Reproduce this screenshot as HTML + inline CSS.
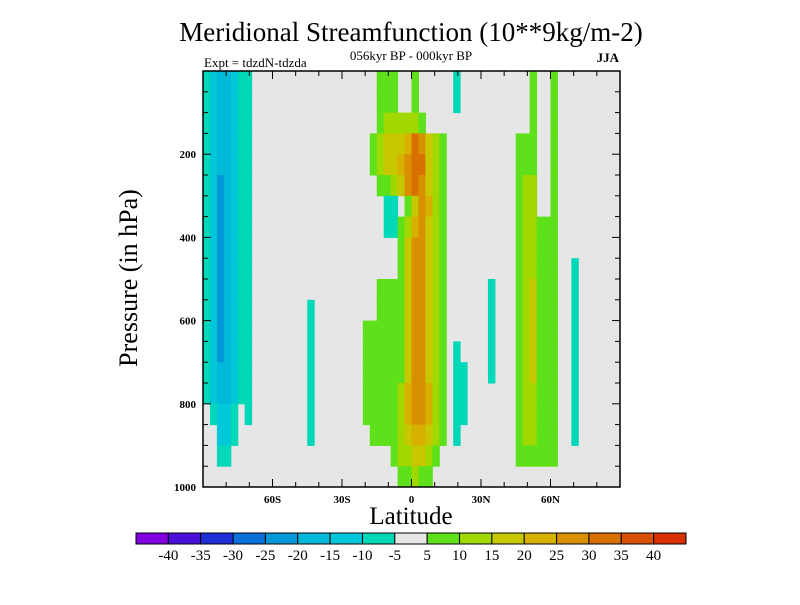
<!DOCTYPE html>
<html><head><meta charset="utf-8"><style>
body{margin:0;background:#fff}
svg text{font-family:"Liberation Serif",serif;fill:#000}
</style></head><body>
<svg id="chart" width="800" height="600" xmlns="http://www.w3.org/2000/svg">
<text x="411" y="41" font-size="27" text-anchor="middle">Meridional Streamfunction (10**9kg/m-2)</text>
<text x="411" y="60" font-size="13" text-anchor="middle">056kyr BP - 000kyr BP</text>
<text x="204" y="67" font-size="13">Expt = tdzdN-tdzda</text>
<text x="619" y="62" font-size="13" text-anchor="end" font-weight="bold">JJA</text>
<text transform="translate(137,278) rotate(-90)" font-size="26" text-anchor="middle">Pressure (in hPa)</text>
<text x="411" y="524" font-size="25" text-anchor="middle">Latitude</text>
<g id="cells"></g>
<g id="axes"></g>
<g id="cbar"></g>
</svg>
<script>
const latStart = -90, latStep = 3;
const presStep = 50;
// field rows (top 0 hPa -> 1000 hPa), 60 latitude columns each
// '.'=0, '1'..'6' positive levels, 'a'..'d' negative levels
const L0="abccbaa...", L5="abdcbaa...";
const values = [
L0+".........."+".....111.."+"1.....a..."+".......1.."+"1.........",
L0+".........."+".....111.."+"1.....a..."+".......1.."+"1.........",
L0+".........."+".....12222"+"21........"+".......1.."+"1.........",
L0+".........."+"....123334"+"65321....."+".....111.."+"1.........",
L0+".........."+"....123345"+"66321....."+".....111.."+"1.........",
L5+".........."+".....11235"+"65321....."+".....122.."+"1.........",
L5+".........."+"......aa.1"+"35421....."+".....122.."+"1.........",
L5+".........."+"......aa12"+"45321....."+".....12211"+"1.........",
L5+".........."+"........13"+"55321....."+".....12211"+"1.........",
L5+".........."+"........13"+"55321....."+".....12211"+"1..a......",
L5+".........."+".....11113"+"55321....."+".a...12311"+"1..a......",
L5+".....a...."+".....11113"+"55321....."+".a...12311"+"1..a......",
L5+".....a...."+"...1111113"+"55321....."+".a...12311"+"1..a......",
L5+".....a...."+"...1111113"+"55321.a..."+".a...12311"+"1..a......",
L0+".....a...."+"...1111113"+"55321.aa.."+".a...12311"+"1..a......",
L0+".....a...."+"...1111124"+"55421.aa.."+".....12211"+"1..a......",
".abba.a..."+".....a...."+"...1111124"+"55421.aa.."+".....12211"+"1..a......",
"..bba....."+".....a...."+"....111123"+"44321.a..."+".....12211"+"1..a......",
"..aa......"+".........."+".......122"+"3321......"+".....11111"+"1.........",
".........."+".........."+"........11"+"211......."+".........."+".........."
];
const levelCodes = {".":0,"1":7.5,"2":12.5,"3":17.5,"4":22.5,"5":27.5,"6":32.5,"a":-7.5,"b":-12.5,"c":-17.5,"d":-22.5};
const cbLabels = ["-40","-35","-30","-25","-20","-15","-10","-5","5","10","15","20","25","30","35","40"];
const cbBounds = [-40,-35,-30,-25,-20,-15,-10,-5,5,10,15,20,25,30,35,40];
const cbColors = ["#8000e0","#4a10d8","#2030d8","#0a70d8","#0098d8","#00b8d8","#00c8d8","#00d8b8","#e6e6e6","#5ee01a","#a0d800","#c8c800","#d8b000","#d89000","#d87000","#d85000","#d83000"];
const yTicks = [200,400,600,800,1000];
const xTicks = [-60,-30,0,30,60];
const xTickLabels = ["60S","30S","0","30N","60N"];

const NS="http://www.w3.org/2000/svg";
const PX0=203, PX1=620, PY0=71, PY1=487;
const xS = lat => PX0 + (lat+90)/180*(PX1-PX0);
const yS = p => PY0 + p/1000*(PY1-PY0);
function colorOf(v){let i=0;while(i<cbBounds.length && v>cbBounds[i]) i++;return cbColors[i];}
function mk(tag,attrs,parent){const e=document.createElementNS(NS,tag);for(const k in attrs)e.setAttribute(k,attrs[k]);parent.appendChild(e);return e;}

const cells=document.getElementById('cells');
const bg=mk('rect',{x:PX0,y:PY0,width:PX1-PX0,height:PY1-PY0,fill:'#e6e6e6'},cells);


values.forEach((row,r)=>{
  for(let c=0;c<row.length;c++){
    const v=levelCodes[row[c]];
    if(v===undefined||v===0) continue;
    const lat=latStart+c*latStep, p=r*presStep;
    const x0=xS(lat), x1=xS(lat+latStep), y0=yS(p), y1=yS(p+presStep);
    const e=mk('rect',{x:x0,y:y0,width:x1-x0+0.5,height:y1-y0+0.5,fill:colorOf(v)},cells);
    
    
  }
});

const ax=document.getElementById('axes');
const frame=mk('rect',{x:PX0,y:PY0,width:PX1-PX0,height:PY1-PY0,fill:'none',stroke:'#000','stroke-width':1.5},ax);


for(let p=50;p<1000;p+=50){
  const len=(p%200===0)?8:5, y=yS(p);
  mk('line',{x1:PX0,y1:y,x2:PX0+len,y2:y,stroke:'#000'},ax);
  mk('line',{x1:PX1,y1:y,x2:PX1-len,y2:y,stroke:'#000'},ax);
}
for(let lat=-80;lat<90;lat+=10){
  const len=(lat%30===0)?8:5, x=xS(lat);
  mk('line',{x1:x,y1:PY1,x2:x,y2:PY1-len,stroke:'#000'},ax);
  mk('line',{x1:x,y1:PY0,x2:x,y2:PY0+len,stroke:'#000'},ax);
}
yTicks.forEach(p=>{
  const t=mk('text',{x:PX0-7,y:yS(p)+4,'font-size':11,'font-weight':'bold','text-anchor':'end'},ax);
  t.textContent=p;
  
  
});
xTicks.forEach((lat,i)=>{
  const t=mk('text',{x:xS(lat),y:503,'font-size':11,'font-weight':'bold','text-anchor':'middle'},ax);
  t.textContent=xTickLabels[i];
  
  
});

const cb=document.getElementById('cbar');
const CB0=136, CB1=686, CBY=533, CBH=11, bw=(CB1-CB0)/cbColors.length;
cbColors.forEach((col,i)=>{
  const r=mk('rect',{x:CB0+i*bw,y:CBY,width:bw,height:CBH,fill:col,stroke:'#000','stroke-width':1},cb);
  
  
});
cbLabels.forEach((lab,i)=>{
  const t=mk('text',{x:CB0+(i+1)*bw,y:560,'font-size':15,'text-anchor':'middle'},cb);
  t.textContent=lab;
  
  
});
</script>
</body></html>
